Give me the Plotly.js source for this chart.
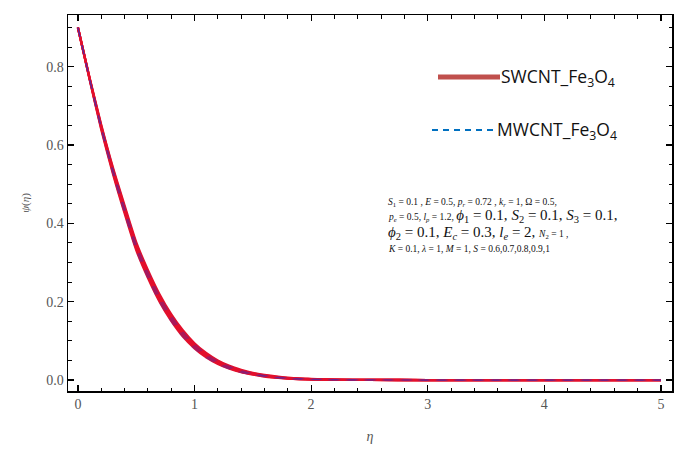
<!DOCTYPE html>
<html>
<head>
<meta charset="utf-8">
<script src="https://cdn.plot.ly/plotly-3.0.1.min.js"></script>
<style>html,body{margin:0;padding:0;background:#fff}#plot{width:674px;height:451px}</style>
</head>
<body>
<div id="plot"></div>
<script>
// similarity variable eta
const eta = [0, 0.1, 0.2, 0.3, 0.4, 0.5, 0.6, 0.7, 0.8, 0.9, 1.0, 1.1, 1.2, 1.3, 1.4, 1.5,
             1.6, 1.7, 1.8, 1.9, 2.0, 2.2, 2.5, 3, 3.5, 4, 4.5, 5];

// S values of the family
const sValues = [0.6, 0.7, 0.8, 0.9, 1];

// psi(eta) for SWCNT_Fe3O4, one row per S
const psiSW_06 = [0.900,0.772,0.652,0.543,0.446,0.352,0.281,0.219,0.168,0.127,0.094,0.069,0.050,0.036,0.026,0.018,0.013,0.009,0.006,0.004,0.003,0.001,0.0004,0,0,0,0,0];
const psiSW_07 = [0.900,0.771,0.649,0.539,0.441,0.347,0.276,0.214,0.163,0.123,0.091,0.066,0.048,0.034,0.024,0.017,0.012,0.008,0.005,0.0035,0.0025,0.001,0.0003,0,0,0,0,0];
const psiSW_08 = [0.900,0.770,0.646,0.535,0.436,0.342,0.271,0.209,0.159,0.119,0.087,0.063,0.045,0.032,0.023,0.016,0.011,0.007,0.0045,0.003,0.002,0.0008,0.0003,0,0,0,0,0];
const psiSW_09 = [0.900,0.769,0.643,0.531,0.431,0.337,0.266,0.204,0.155,0.115,0.084,0.060,0.043,0.030,0.021,0.015,0.010,0.006,0.004,0.0025,0.0015,0.0006,0.0002,0,0,0,0,0];
const psiSW_10 = [0.900,0.768,0.640,0.527,0.426,0.332,0.261,0.200,0.151,0.111,0.081,0.058,0.041,0.029,0.020,0.014,0.009,0.006,0.0035,0.002,0.0012,0.0005,0.0002,0,0,0,0,0];

// psi(eta) for MWCNT_Fe3O4, one row per S
const psiMW_06 = [0.900,0.771,0.650,0.541,0.443,0.349,0.278,0.216,0.165,0.124,0.092,0.067,0.049,0.035,0.025,0.017,0.012,0.008,0.0055,0.0038,0.0027,0.001,0.0003,0,0,0,0,0];
const psiMW_07 = [0.900,0.770,0.647,0.537,0.438,0.344,0.273,0.211,0.161,0.121,0.089,0.064,0.046,0.033,0.023,0.016,0.011,0.0075,0.005,0.0032,0.0022,0.0009,0.0003,0,0,0,0,0];
const psiMW_08 = [0.900,0.769,0.644,0.533,0.433,0.339,0.268,0.206,0.157,0.117,0.085,0.061,0.044,0.031,0.022,0.015,0.0105,0.0068,0.0042,0.0028,0.0018,0.0007,0.0002,0,0,0,0,0];
const psiMW_09 = [0.900,0.768,0.641,0.529,0.428,0.334,0.263,0.202,0.153,0.113,0.082,0.059,0.042,0.029,0.020,0.014,0.0095,0.006,0.0038,0.0023,0.0014,0.0006,0.0002,0,0,0,0,0];
const psiMW_10 = [0.900,0.767,0.638,0.525,0.424,0.330,0.259,0.198,0.149,0.109,0.079,0.056,0.040,0.028,0.019,0.013,0.0085,0.0055,0.0033,0.0019,0.0011,0.0004,0.0001,0,0,0,0,0];

const swRows = [psiSW_06, psiSW_07, psiSW_08, psiSW_09, psiSW_10];
const mwRows = [psiMW_06, psiMW_07, psiMW_08, psiMW_09, psiMW_10];

const seriesNames = ['SWCNT_Fe<sub>3</sub>O<sub>4</sub>', 'MWCNT_Fe<sub>3</sub>O<sub>4</sub>'];

const traces = [];
swRows.forEach((row, i) => traces.push({
  x: eta, y: row, type: 'scatter', mode: 'lines',
  name: 'SWCNT S=' + sValues[i], showlegend: false, hoverinfo: 'skip',
  line: {color: '#e3102c', width: 2.3, shape: 'spline', smoothing: 0.6}
}));
mwRows.forEach((row, i) => traces.push({
  x: eta, y: row, type: 'scatter', mode: 'lines',
  name: 'MWCNT S=' + sValues[i], showlegend: false, hoverinfo: 'skip',
  opacity: 0.3,
  line: {color: '#4a2cb0', width: 1.2, dash: 'dash', shape: 'spline', smoothing: 0.6}
}));

// paper-coordinate helpers for the plot area (68..672 x 15..391 px)
const px = v => (v - 68) / 604;
const py = v => (391 - v) / 376;

const serif = 'Liberation Serif, Times New Roman, serif';
const sans = 'Open Sans, Liberation Sans, sans-serif';

const annotations = [
  {text: seriesNames[0], x: px(499), y: py(77), xanchor: 'left', yanchor: 'middle', font: {family: sans, size: 17.5, color: '#111'}},
  {text: seriesNames[1], x: px(495), y: py(130), xanchor: 'left', yanchor: 'middle', font: {family: sans, size: 17.5, color: '#111'}},
  {text: '<i>S</i><sub>1</sub> = 0.1 , <i>E</i> = 0.5, <i>p<sub>r</sub></i> = 0.72 , <i>k<sub>r</sub></i> = 1, Ω = 0.5,',
   x: px(386), y: py(202), xanchor: 'left', yanchor: 'middle', font: {family: serif, size: 9.5, color: '#111'}},
  {text: '<i>p<sub>e</sub></i> = 0.5, <i>l<sub>p</sub></i> = 1.2, <span style="font-size:15px"><i>ϕ</i><sub>1</sub> = 0.1, <i>S</i><sub>2</sub> = 0.1, <i>S</i><sub>3</sub> = 0.1,</span>',
   x: px(386), y: py(216), xanchor: 'left', yanchor: 'middle', font: {family: serif, size: 9.5, color: '#111'}},
  {text: '<i>ϕ</i><sub>2</sub> = 0.1, <i>E<sub>c</sub></i> = 0.3, <i>l<sub>e</sub></i> = 2, <span style="font-size:9.5px"><i>N</i><sub>2</sub> = 1 ,</span>',
   x: px(386), y: py(233), xanchor: 'left', yanchor: 'middle', font: {family: serif, size: 15, color: '#111'}},
  {text: '<i>K</i> = 0.1, <i>λ</i> = 1, <i>M</i> = 1, <i>S</i> = 0.6,0.7,0.8,0.9,1',
   x: px(386), y: py(249), xanchor: 'left', yanchor: 'middle', font: {family: serif, size: 9.5, color: '#111'}}
].map(a => Object.assign({xref: 'paper', yref: 'paper', showarrow: false, align: 'left'}, a));

const shapes = [
  {type: 'line', xref: 'paper', yref: 'paper', x0: px(438), x1: px(500), y0: py(77), y1: py(77),
   line: {color: '#c0504d', width: 5}},
  {type: 'line', xref: 'paper', yref: 'paper', x0: px(432), x1: px(496), y0: py(130), y1: py(130),
   line: {color: '#0070c0', width: 2, dash: '6px,5px'}}
];

const axisCommon = {
  showline: true, linecolor: '#000', linewidth: 1.5, mirror: 'ticks',
  ticks: 'inside', ticklen: 6, tickwidth: 1.2, tickcolor: '#000',
  showgrid: false, zeroline: false,
  tickfont: {family: serif, size: 14, color: '#555'}
};

const layout = {
  width: 674, height: 451,
  margin: {l: 68, r: 2, t: 15, b: 60},
  paper_bgcolor: '#fff', plot_bgcolor: '#fff',
  showlegend: false,
  xaxis: Object.assign({}, axisCommon, {
    range: [-0.085, 5.095], dtick: 1, tick0: 0,
    minor: {dtick: 0.2, ticks: 'inside', ticklen: 3.5, tickcolor: '#000', tickwidth: 1},
    title: {text: '<i>η</i>', font: {family: serif, size: 14, color: '#555'}, standoff: 20}
  }),
  yaxis: Object.assign({}, axisCommon, {
    range: [-0.028, 0.932], dtick: 0.2, tick0: 0, tickformat: '.1f',
    minor: {dtick: 0.05, ticks: 'inside', ticklen: 3.5, tickcolor: '#000', tickwidth: 1},
    title: {text: '<i>ψ</i>(<i>η</i>)', font: {family: serif, size: 11, color: '#555'}, standoff: 14}
  }),
  annotations: annotations,
  shapes: shapes
};

Plotly.newPlot('plot', traces, layout, {staticPlot: true, displayModeBar: false});
</script>
</body>
</html>
